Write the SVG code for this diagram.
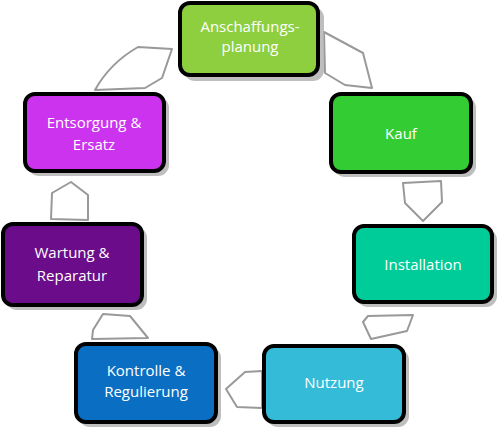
<svg xmlns="http://www.w3.org/2000/svg" width="500" height="432" viewBox="0 0 500 432">
<style>
.sh{fill:#b3b3b3;opacity:0.85}
.bx{stroke:#000;stroke-width:4;stroke-linejoin:round}
.t{font-family:"Open Sans","Liberation Sans",sans-serif;font-size:15px;fill:#fff;text-anchor:middle}
.ar{fill:#fff;stroke:#999;stroke-width:2;stroke-linejoin:round}
</style>
<rect width="500" height="432" fill="#fff"/>
<g id="connectors">
<path class="ar" d="M324,32 L363,53 L372,88 L345,85 L325,73 Z"/>
<path class="ar" d="M403,183 L441,181 L442,202 L423,221 L405,203 Z"/>
<path class="ar" d="M368,316 L413,315 L407,331 L371,339 L363,322 Z"/>
<path class="ar" d="M262,371 L245,372 L226,389 L237,407 L262,408 Z"/>
<path class="ar" d="M103,314 L130,316 L148,338 L92,339 L93,330 Z"/>
<path class="ar" d="M52,193 L71,182 L88,195 L88,220 L51,219 Z"/>
<path class="ar" d="M95,90 Q110,63 138,47 L172,49 L162,78 L145,88 Z"/>
</g>
<g id="n1">
<rect class="sh" x="184" y="7" width="140" height="74" rx="11"/>
<rect class="bx" x="180" y="3" width="138" height="72" rx="10" fill="#8dcf3f"/>
<text class="t" x="250" y="32">Anschaffungs-</text>
<text class="t" x="250" y="52">planung</text>
</g>
<g id="n2">
<rect class="sh" x="334" y="97" width="142" height="80" rx="11"/>
<rect class="bx" x="331" y="94" width="140" height="78" rx="10" fill="#33cc33"/>
<text class="t" x="401" y="139">Kauf</text>
</g>
<g id="n3">
<rect class="sh" x="357" y="229" width="140" height="78" rx="11"/>
<rect class="bx" x="354" y="226" width="138" height="76" rx="10" fill="#00cc99"/>
<text class="t" x="423" y="270">Installation</text>
</g>
<g id="n4">
<rect class="sh" x="267" y="349" width="142" height="78" rx="11"/>
<rect class="bx" x="264" y="346" width="140" height="76" rx="10" fill="#33bbd8"/>
<text class="t" x="334" y="388">Nutzung</text>
</g>
<g id="n5">
<rect class="sh" x="79" y="347" width="142" height="80" rx="11"/>
<rect class="bx" x="76" y="344" width="140" height="78" rx="10" fill="#0a6fc2"/>
<text class="t" x="146" y="376">Kontrolle &amp;</text>
<text class="t" x="146" y="397">Regulierung</text>
</g>
<g id="n6">
<rect class="sh" x="6" y="227" width="141" height="83" rx="11"/>
<rect class="bx" x="3" y="224" width="139" height="81" rx="10" fill="#6b0c8a"/>
<text class="t" x="72" y="258">Wartung &amp;</text>
<text class="t" x="72" y="281">Reparatur</text>
</g>
<g id="n7">
<rect class="sh" x="28" y="97" width="141" height="79" rx="11"/>
<rect class="bx" x="25" y="94" width="139" height="77" rx="10" fill="#cc33ee"/>
<text class="t" x="94" y="128">Entsorgung &amp;</text>
<text class="t" x="94" y="150">Ersatz</text>
</g>
</svg>
